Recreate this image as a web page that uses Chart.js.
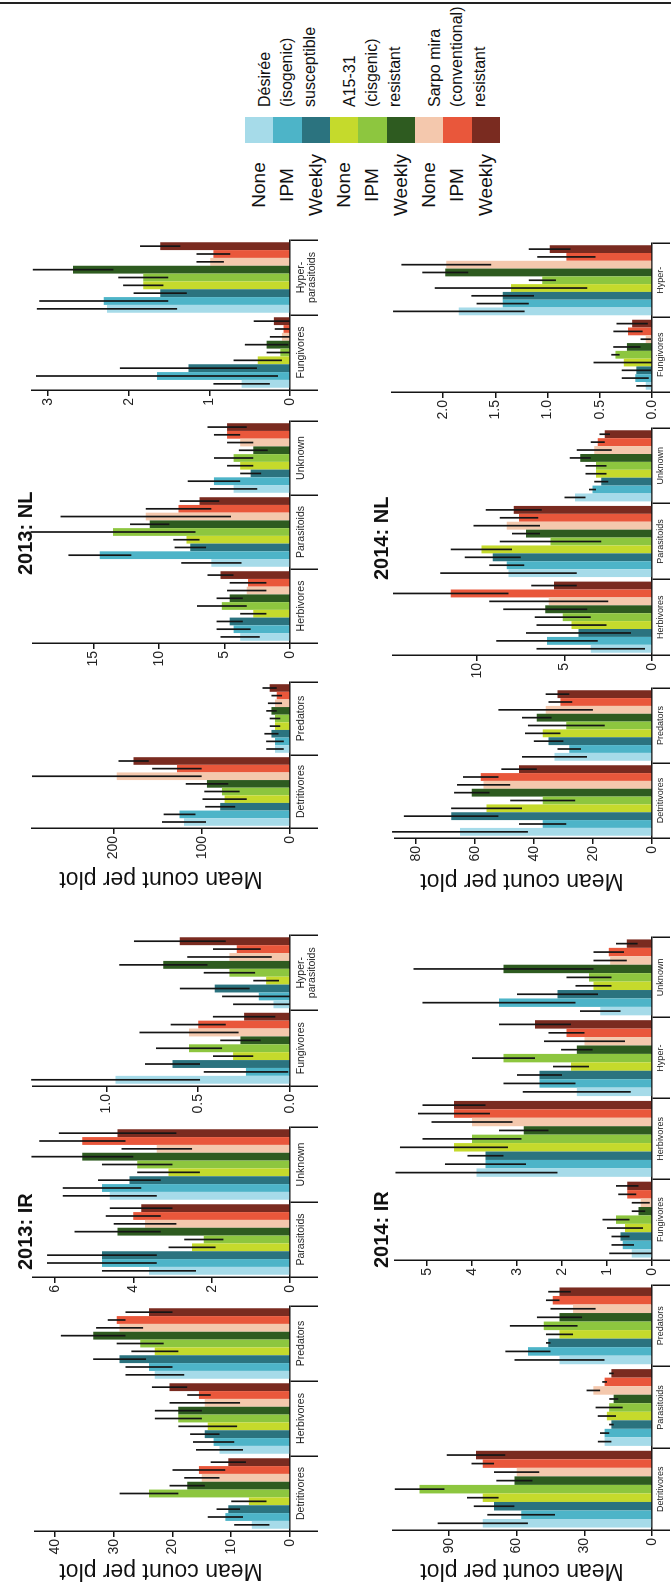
<!DOCTYPE html>
<html>
<head>
<meta charset="utf-8">
<script src="https://cdn.jsdelivr.net/npm/chart.js@4.4.1/dist/chart.umd.min.js"></script>
<style>
html, body { margin: 0; padding: 0; background: #fff; overflow: hidden; width: 671px; height: 1588px; }
#fig {
    position: absolute; left: 0; top: 0; width: 1588px; height: 671px;
    transform-origin: 0 0; transform: translate(0, 1588px) rotate(-90deg);
    font-family: "Liberation Sans", Arial, sans-serif; color: #111;
}
#fig canvas { position: absolute; }
.rule { position: absolute; left: 1584px; top: 0; width: 2px; height: 671px; background: #222; }
.ptitle { position: absolute; font-weight: bold; font-size: 20px; line-height: 22px; white-space: nowrap; }
.ytitle { position: absolute; font-size: 23px; white-space: nowrap; transform: translate(-50%, -50%) rotate(-90deg); }
.cell { position: absolute; }
.tlab { position: absolute; width: 80px; text-align: center; font-size: 19px; line-height: 22px; }
.glab { position: absolute; font-size: 16px; line-height: 22.5px; white-space: nowrap; }
</style>
</head>
<body>
<div id="fig"><div class="rule"></div></div>
<script>
// treatments: Désirée None/IPM/Weekly, A15-31 None/IPM/Weekly, Sarpo mira None/IPM/Weekly
const treat = ['None', 'IPM', 'Weekly'];
const cultivars = [
    ['Désirée', '(isogenic)', 'susceptible'],
    ['A15-31', '(cisgenic)', 'resistant'],
    ['Sarpo mira', '(conventional)', 'resistant']
];
const colors = ['#a6dbe9', '#4db4c8', '#2b737f', '#c5da2c', '#8dc63f', '#2e5b20', '#f4c8ad', '#e9573b', '#7a2b20'];

// 2013: IR
const ir13aCats = ['Detritivores', 'Herbivores', 'Predators'];
const ir13aMean = [[6.5, 12, 23], [11, 13, 24], [10.5, 14.5, 29], [7, 14, 23], [24, 19, 25.5], [17.5, 19, 33.5], [15, 14.5, 29], [15.5, 15.5, 29.5], [10.5, 20.5, 24]];
const ir13aErr = [[3, 4, 5], [3, 3.5, 4], [2, 2.5, 4.5], [3, 5, 4], [5, 4, 4], [3, 4, 5.5], [3, 6, 4], [4.5, 2, 1.5], [3, 3, 4]];
const ir13bCats = ['Parasitoids', 'Unknown'];
const ir13bMean = [[3.6, 4.6], [4.8, 4.8], [4.8, 4.1], [2.5, 3.1], [2.2, 3.9], [4.4, 5.3], [3.7, 3.4], [4.0, 5.3], [3.8, 4.4]];
const ir13bErr = [[1.2, 1.2], [1.4, 1.0], [1.4, 0.8], [0.6, 0.8], [0.5, 0.9], [1.1, 1.3], [0.8, 0.9], [0.7, 1.1], [0.8, 1.5]];
const ir13cCats = ['Fungivores', ['Hyper-', 'parasitoids']];
const ir13cMean = [[0.95, 0.09], [0.24, 0.17], [0.64, 0.41], [0.31, 0.13], [0.55, 0.33], [0.27, 0.69], [0.55, 0.33], [0.5, 0.29], [0.25, 0.6]];
const ir13cErr = [[0.46, 0.22], [0.23, 0.2], [0.15, 0.19], [0.11, 0.07], [0.18, 0.14], [0.11, 0.24], [0.27, 0.23], [0.15, 0.13], [0.17, 0.25]];

// 2013: NL
const nl13aCats = ['Detritivores', 'Predators'];
const nl13aMean = [[120, 17], [125, 17], [79, 21], [74, 17], [77, 17], [94, 21], [196, 17], [128, 15], [177, 23]];
const nl13aErr = [[25, 10], [18, 10], [17, 8], [25, 6], [20, 6], [24, 6], [96, 8], [28, 6], [17, 8]];
const nl13bCats = ['Herbivores', 'Parasitoids', 'Unknown'];
const nl13bMean = [[3.8, 6.0, 4.3], [4.3, 14.5, 5.8], [4.6, 7.6, 3.0], [2.8, 7.9, 3.8], [5.2, 13.5, 4.3], [4.6, 10.7, 2.8], [3.3, 11, 3.8], [3.2, 8.5, 4.8], [5.3, 6.9, 4.8]];
const nl13bErr = [[1.5, 2.3, 1.8], [1.3, 2.4, 2.0], [1.0, 1.2, 0.8], [1.0, 1.0, 1.0], [1.9, 6.3, 1.5], [1.0, 1.5, 1.1], [1.5, 6.5, 1.0], [1.4, 2.5, 1.0], [1.0, 1.5, 1.5]];
const nl13cCats = ['Fungivores', ['Hyper-', 'parasitoids']];
const nl13cMean = [[0.6, 2.27], [1.65, 2.31], [1.26, 1.61], [0.4, 1.82], [0.12, 1.82], [0.29, 2.69], [0.1, 0.99], [0.08, 0.95], [0.2, 1.61]];
const nl13cErr = [[0.35, 0.87], [1.5, 0.8], [0.85, 0.33], [0.3, 0.25], [0.17, 0.31], [0.27, 0.5], [0.15, 0.17], [0.11, 0.21], [0.25, 0.25]];

// 2014: IR
const ir14aCats = ['Detritivores', 'Parasitoids', 'Predators'];
const ir14aMean = [[75, 21, 41], [58, 21, 55], [70, 18, 46], [75, 20, 41], [103, 19, 48], [61, 17, 41], [60, 26, 35], [75, 21, 44], [78, 18, 41]];
const ir14aErr = [[20, 3, 20], [15, 2, 10], [9, 1, 1], [7, 4, 6], [11, 6, 15], [8, 2, 10], [10, 3, 10], [5, 1, 3], [13, 1, 5]];
const ir14bCats = ['Fungivores', 'Herbivores', 'Hyper-', 'Unknown'];
const ir14bMean = [[0.45, 3.9, 1.67, 1.15], [0.65, 3.7, 2.5, 3.4], [0.7, 3.7, 2.5, 2.1], [0.6, 4.4, 1.8, 1.3], [0.8, 4.0, 3.3, 1.4], [0.3, 2.85, 1.67, 3.3], [0.25, 4.0, 1.5, 0.93], [0.55, 4.4, 1.9, 0.96], [0.55, 4.4, 2.6, 0.56]];
const ir14bErr = [[0.5, 1.8, 1.2, 0.45], [0.25, 0.9, 0.8, 1.7], [0.2, 0.4, 0.5, 0.9], [0.4, 1.2, 0.4, 0.4], [0.3, 1.1, 0.7, 0.5], [0.15, 0.55, 0.35, 2.0], [0.2, 0.9, 0.9, 0.37], [0.2, 0.8, 0.4, 0.34], [0.25, 0.7, 0.8, 0.24]];

// 2014: NL
const nl14aCats = ['Detritivores', 'Predators'];
const nl14aMean = [[65, 33], [37, 28], [68, 35], [56, 37], [37, 29], [61, 39], [57, 36], [58, 31], [45, 32]];
const nl14aErr = [[23, 11], [8, 4], [16, 5], [12, 6], [11, 13], [6, 5], [9, 16], [6, 4], [6, 4]];
const nl14bCats = ['Herbivores', 'Parasitoids', 'Unknown'];
const nl14bMean = [[3.5, 8.2, 4.4], [6.0, 8.3, 3.4], [4.2, 9.1, 2.9], [4.6, 9.75, 3.2], [5.1, 5.8, 3.2], [6.1, 7.2, 4.1], [5.9, 8.3, 3.3], [11.5, 7.6, 3.1], [5.6, 7.9, 2.7]];
const nl14bErr = [[3.1, 3.9, 0.6], [2.9, 1.0, 0.2], [3.0, 1.6, 0.4], [2.0, 1.75, 0.6], [1.6, 2.9, 0.6], [2.4, 0.8, 0.6], [3.4, 1.9, 1.0], [3.3, 1.1, 0.4], [1.3, 1.6, 0.3]];
const nl14cCats = ['Fungivores', 'Hyper-'];
const nl14cMean = [[0.06, 1.85], [0.16, 1.43], [0.15, 1.43], [0.27, 1.35], [0.35, 1.05], [0.24, 1.98], [0.06, 1.97], [0.23, 0.82], [0.19, 0.98]];
const nl14cErr = [[0.09, 0.63], [0.13, 0.25], [0.14, 0.3], [0.29, 0.73], [0.04, 0.13], [0.13, 0.22], [0.05, 0.43], [0.14, 0.28], [0.15, 0.2]];

// layout of each small chart, in the unrotated figure
const panels = [
    { cats: ir13aCats, mean: ir13aMean, err: ir13aErr, left: 57, right: 282, base: 290, top: 35, max: 43.4, step: 10, dec: 0, row: 0 },
    { cats: ir13bCats, mean: ir13bMean, err: ir13bErr, left: 311, right: 461, base: 290, top: 33, max: 6.56, step: 2, dec: 0, row: 0 },
    { cats: ir13cCats, mean: ir13cMean, err: ir13cErr, left: 502, right: 653, base: 290, top: 33, max: 1.40, step: 0.5, dec: 1, row: 0 },
    { cats: nl13aCats, mean: nl13aMean, err: nl13aErr, left: 760, right: 906, base: 290, top: 32, max: 292, step: 100, dec: 0, row: 0 },
    { cats: nl13bCats, mean: nl13bMean, err: nl13bErr, left: 945, right: 1167, base: 290, top: 33, max: 19.6, step: 5, dec: 0, row: 0 },
    { cats: nl13cCats, mean: nl13cMean, err: nl13cErr, left: 1198, right: 1348, base: 290, top: 32, max: 3.2, step: 1, dec: 0, row: 0 },
    { cats: ir14aCats, mean: ir14aMean, err: ir14aErr, left: 58, right: 303, base: 652, top: 393, max: 114.8, step: 30, dec: 0, row: 1 },
    { cats: ir14bCats, mean: ir14bMean, err: ir14bErr, left: 328, right: 651, base: 652, top: 395, max: 5.71, step: 1, dec: 0, row: 1 },
    { cats: nl14aCats, mean: nl14aMean, err: nl14aErr, left: 750, right: 900, base: 652, top: 395, max: 87, step: 20, dec: 0, row: 1 },
    { cats: nl14bCats, mean: nl14bMean, err: nl14bErr, left: 933, right: 1160, base: 652, top: 393, max: 14.8, step: 5, dec: 0, row: 1 },
    { cats: nl14cCats, mean: nl14cMean, err: nl14cErr, left: 1196, right: 1345, base: 652, top: 392, max: 2.49, step: 0.5, dec: 1, row: 1 }
];

const fig = document.getElementById('fig');
const ink = '#151515';

const errBars = {
    id: 'errBars',
    afterDatasetsDraw(chart) {
        const ctx = chart.ctx;
        const ys = chart.scales.y;
        ctx.save();
        ctx.strokeStyle = ink;
        ctx.lineWidth = 1.7;
        chart.data.datasets.forEach((ds, i) => {
            chart.getDatasetMeta(i).data.forEach((bar, j) => {
                const m = ds.data[j], e = ds.errs[j];
                ctx.beginPath();
                ctx.moveTo(bar.x, ys.getPixelForValue(Math.max(0, m - e)));
                ctx.lineTo(bar.x, ys.getPixelForValue(m + e));
                ctx.stroke();
            });
        });
        ctx.restore();
    }
};

panels.forEach(p => {
    const yW = 60, padT = 12, padR = 4;
    const catLen = p.row ? 18 : 28;
    const xH = catLen + 2;
    const w = yW + (p.right - p.left) + padR;
    const h = padT + (p.base - p.top) + xH;
    const cv = document.createElement('canvas');
    cv.width = w;
    cv.height = h;
    cv.style.left = (p.left - yW) + 'px';
    cv.style.top = (p.top - padT) + 'px';
    cv.style.width = w + 'px';
    cv.style.height = h + 'px';
    fig.appendChild(cv);

    new Chart(cv, {
        type: 'bar',
        data: {
            labels: p.cats,
            datasets: p.mean.map((row, i) => ({
                label: cultivars[Math.floor(i / 3)][0] + ' ' + treat[i % 3],
                data: row,
                errs: p.err[i],
                backgroundColor: colors[i],
                borderWidth: 0,
                categoryPercentage: 0.94,
                barPercentage: 1.0
            }))
        },
        options: {
            responsive: false,
            animation: false,
            layout: { padding: { top: padT, right: padR, left: 0, bottom: 0 } },
            plugins: { legend: { display: false }, tooltip: { enabled: false } },
            scales: {
                x: {
                    offset: true,
                    grid: { offset: true, drawOnChartArea: false, drawTicks: true, tickLength: catLen, color: ink, lineWidth: 1.5 },
                    border: { display: true, color: ink, width: 1.5 },
                    ticks: {
                        autoSkip: false, maxRotation: 0, minRotation: 0,
                        padding: -(catLen - (p.row ? 4 : 5)),
                        color: '#222',
                        font: { family: 'Liberation Sans', size: p.row ? 9 : 10.5, lineHeight: 1.1 }
                    },
                    afterFit: s => { s.height = xH; }
                },
                y: {
                    min: 0,
                    max: p.max,
                    grid: { drawOnChartArea: false, tickLength: 6, color: ink, lineWidth: 1.5 },
                    border: { display: true, color: ink, width: 1.5 },
                    ticks: {
                        autoSkip: false,
                        padding: 2,
                        color: '#222',
                        font: { family: 'Liberation Sans', size: 14 },
                        callback: v => Number(v).toFixed(p.dec)
                    },
                    afterBuildTicks: s => {
                        const t = [];
                        for (let k = 0; k * p.step <= p.max + 1e-9; k++) t.push({ value: +(k * p.step).toFixed(6) });
                        s.ticks = t;
                    },
                    afterFit: s => { s.width = yW; }
                }
            }
        },
        plugins: [errBars]
    });
});

// panel titles and axis titles
const titles = [
    ['2013: IR', 318, 25], ['2013: NL', 1013, 25],
    ['2014: IR', 320, 381], ['2014: NL', 1008, 381]
];
titles.forEach(t => {
    const d = document.createElement('div');
    d.className = 'ptitle';
    d.textContent = t[0];
    d.style.left = t[1] + 'px';
    d.style.top = (t[2] - 11) + 'px';
    fig.appendChild(d);
});

const yTitles = [[16, 161], [708, 161], [16, 522], [706, 522]];
yTitles.forEach(t => {
    const d = document.createElement('div');
    d.className = 'ytitle';
    d.textContent = 'Mean count per plot';
    d.style.left = t[0] + 'px';
    d.style.top = t[1] + 'px';
    fig.appendChild(d);
});

// legend: colour strip with treatment and cultivar labels
const cellH = 28.33;
colors.forEach((c, i) => {
    const cell = document.createElement('div');
    cell.className = 'cell';
    cell.style.background = c;
    cell.style.left = '1445px';
    cell.style.width = '26px';
    cell.style.top = (245 + cellH * i) + 'px';
    cell.style.height = (cellH + 0.5) + 'px';
    fig.appendChild(cell);

    const lab = document.createElement('div');
    lab.className = 'tlab';
    lab.textContent = treat[i % 3];
    lab.style.left = '1363px';
    lab.style.top = (245 + cellH * (i + 0.5) - 11) + 'px';
    fig.appendChild(lab);
});
cultivars.forEach((lines, g) => {
    const d = document.createElement('div');
    d.className = 'glab';
    d.innerHTML = lines.join('<br>');
    d.style.left = '1481px';
    d.style.top = (245 + cellH * (3 * g + 1.5) - 33.75) + 'px';
    fig.appendChild(d);
});
</script>
</body>
</html>
